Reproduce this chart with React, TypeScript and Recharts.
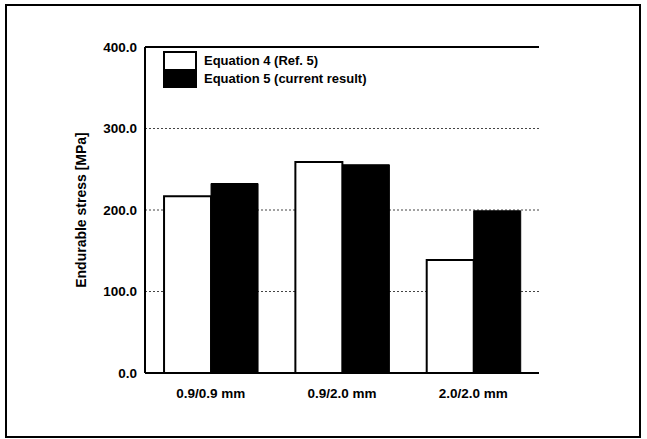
import React from 'react';
import { BarChart, Bar, XAxis, YAxis, CartesianGrid, Legend, ReferenceLine } from 'recharts';

const categories = ['0.9/0.9 mm', '0.9/2.0 mm', '2.0/2.0 mm'];
const equation4 = [217, 259, 138.5];
const equation5 = [232.5, 255.5, 199];
const yTicks = [0, 100, 200, 300, 400];
const minorTicks = [0, 50, 100, 150, 200, 250, 300, 350, 400];
const seriesNames = ['Equation 4 (Ref. 5)', 'Equation 5 (current result)'];

const data = categories.map((c, i) => ({ name: c, eq4: equation4[i], eq5: equation5[i] }));

const FONT = '"Liberation Sans", Arial, Helvetica, sans-serif';

const LegendContent = () => (
  <div style={{ position: 'relative', width: 220, height: 38, fontFamily: FONT, fontSize: 13, fontWeight: 700, color: '#000' }}>
    <div style={{ position: 'absolute', left: 0, top: 0, width: 34, height: 37, boxSizing: 'border-box', border: '2px solid #000', background: '#fff' }} />
    <div style={{ position: 'absolute', left: 0, top: 18, width: 34, height: 19, background: '#000' }} />
    <div style={{ position: 'absolute', left: 41, top: 2, whiteSpace: 'nowrap', lineHeight: '16px' }}>{seriesNames[0]}</div>
    <div style={{ position: 'absolute', left: 41, top: 20, whiteSpace: 'nowrap', lineHeight: '16px' }}>{seriesNames[1]}</div>
  </div>
);

const YLabel = () => (
  <text x={86} y={210} transform="rotate(-90 86 210)" textAnchor="middle" fontFamily={FONT} fontSize={14} fontWeight={700} fill="#000">
    Endurable stress [MPa]
  </text>
);

export default function App() {
  return (
    <div style={{ position: 'fixed', left: 0, top: 0, width: 647, height: 439, background: '#fff' }}>
      <div style={{ position: 'absolute', left: 5, top: 4, width: 636, height: 434, boxSizing: 'border-box', border: '2px solid #000' }} />
      <div style={{ position: 'absolute', left: 0, top: 0 }}>
        <BarChart width={647} height={439} data={data} margin={{ top: 47, right: 108, bottom: 36, left: 85 }} barCategoryGap="14.5%" barGap={0}>
          <CartesianGrid horizontal vertical={false} stroke="#444" strokeDasharray="2 2" />
          <XAxis dataKey="name" height={30} axisLine={{ stroke: '#000', strokeWidth: 2 }} tickLine={false} tickMargin={9}
            tick={{ fill: '#000', fontFamily: FONT, fontSize: 13.5, fontWeight: 700 }} />
          <YAxis yAxisId={0} width={60} domain={[0, 400]} ticks={yTicks} interval={0} tickFormatter={(v: number) => v.toFixed(1)}
            axisLine={{ stroke: '#000', strokeWidth: 2 }} tickLine={false}
            tick={{ fill: '#000', fontFamily: FONT, fontSize: 13.5, fontWeight: 700 }}
            label={<YLabel />} />
          <YAxis yAxisId="r" orientation="right" width={0} domain={[0, 400]} ticks={minorTicks} interval={0} mirror
            axisLine={{ stroke: '#000', strokeWidth: 2 }} tickSize={3} tickLine={{ stroke: '#000' }} tick={{ fontSize: 0 }} />
          <ReferenceLine yAxisId={0} y={400} stroke="#000" strokeWidth={2} />
          <Legend verticalAlign="middle" align="center" layout="horizontal" content={<LegendContent />}
            wrapperStyle={{ position: 'absolute', left: 163, top: 51, width: 220, height: 38 }} />
          <Bar yAxisId={0} dataKey="eq4" name={seriesNames[0]} fill="#fff" stroke="#000" strokeWidth={2} isAnimationActive={false} />
          <Bar yAxisId={0} dataKey="eq5" name={seriesNames[1]} fill="#000" stroke="#000" strokeWidth={1} isAnimationActive={false} />
        </BarChart>
      </div>
    </div>
  );
}
